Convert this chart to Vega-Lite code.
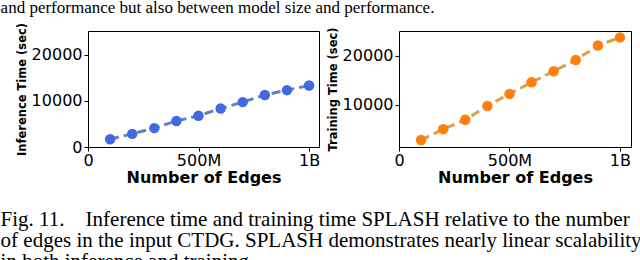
{
  "$schema": "https://vega.github.io/schema/vega-lite/v6.json",
  "padding": {"left": 0, "top": -2, "right": 0, "bottom": 0},
  "background": "white",
  "datasets": {
    "inference": [
      {"edges": 100000000, "time": 1700},
      {"edges": 200000000, "time": 2850},
      {"edges": 300000000, "time": 4100},
      {"edges": 400000000, "time": 5650},
      {"edges": 500000000, "time": 6800},
      {"edges": 600000000, "time": 8350},
      {"edges": 700000000, "time": 9750},
      {"edges": 800000000, "time": 11300},
      {"edges": 900000000, "time": 12350},
      {"edges": 1000000000, "time": 13350}
    ],
    "training": [
      {"edges": 100000000, "time": 2900},
      {"edges": 200000000, "time": 5100},
      {"edges": 300000000, "time": 7000},
      {"edges": 400000000, "time": 9800},
      {"edges": 500000000, "time": 12250},
      {"edges": 600000000, "time": 14600},
      {"edges": 700000000, "time": 16850},
      {"edges": 800000000, "time": 19100},
      {"edges": 900000000, "time": 22050},
      {"edges": 1000000000, "time": 23700}
    ]
  },
  "title": {
    "text": ["Fig. 11.\u00a0\u00a0\u00a0\u00a0Inference time and training time SPLASH relative to the number", "of edges in the input CTDG. SPLASH demonstrates nearly linear scalability", "in both inference and training."],
    "orient": "bottom", "anchor": "start", "frame": "bounds",
    "font": "Liberation Serif", "fontSize": 21, "fontWeight": "normal", "color": "#000000",
    "lineHeight": 21, "offset": 23
  },
  "vconcat": [
    {
      "title": {
        "text": "and performance but also between model size and performance.",
        "orient": "top", "anchor": "start", "frame": "bounds", "dx": -15,
        "font": "Liberation Serif", "fontSize": 17, "fontWeight": "normal", "color": "#000000",
        "offset": 5
      },
      "spacing": 5,
      "hconcat": [
        {
          "width": 231, "height": 116,
          "data": {"name": "inference"},
          "encoding": {
            "x": {"field": "edges", "type": "quantitative",
              "scale": {"domain": [0, 1045000000], "nice": false, "zero": false},
              "axis": {"values": [0, 500000000, 1000000000], "labelExpr": "datum.value == 0 ? '0' : datum.value == 500000000 ? '500M' : '1B'", "title": "Number of Edges"}},
            "y": {"field": "time", "type": "quantitative",
              "scale": {"domain": [0, 25200], "nice": false},
              "axis": {"values": [0, 10000, 20000], "format": "d", "title": "Inference Time (sec)"}}
          },
          "layer": [
            {"mark": {"type": "line", "color": "#5f7fbf", "strokeWidth": 3, "strokeDash": [9, 5]}},
            {"mark": {"type": "circle", "size": 110, "color": "#4169e1", "opacity": 1}}
          ]
        },
        {
          "width": 232, "height": 116,
          "data": {"name": "training"},
          "encoding": {
            "x": {"field": "edges", "type": "quantitative",
              "scale": {"domain": [0, 1050000000], "nice": false, "zero": false},
              "axis": {"values": [0, 500000000, 1000000000], "labelExpr": "datum.value == 0 ? '0' : datum.value == 500000000 ? '500M' : '1B'", "title": "Number of Edges"}},
            "y": {"field": "time", "type": "quantitative",
              "scale": {"domain": [1480, 25000], "nice": false, "zero": false},
              "axis": {"values": [10000, 20000], "format": "d", "title": "Training Time (sec)"}}
          },
          "layer": [
            {"mark": {"type": "line", "color": "#d8a24a", "strokeWidth": 3, "strokeDash": [9, 5]}},
            {"mark": {"type": "circle", "size": 110, "color": "#ff7f0e", "opacity": 1}}
          ]
        }
      ]
    }
  ],
  "config": {
    "view": {"stroke": "black", "strokeWidth": 1},
    "axis": {"grid": false, "domain": false, "tickColor": "black", "tickSize": 4,
      "labelFont": "DejaVu Sans", "labelFontSize": 16, "labelColor": "black", "labelPadding": 1,
      "titleFont": "DejaVu Sans", "titleFontWeight": "bold", "titleColor": "black"},
    "axisX": {"titleFontSize": 16, "labelFlush": false, "titlePadding": 1},
    "axisY": {"titleFontSize": 11.5, "titlePadding": 4, "labelPadding": 2}
  }
}
